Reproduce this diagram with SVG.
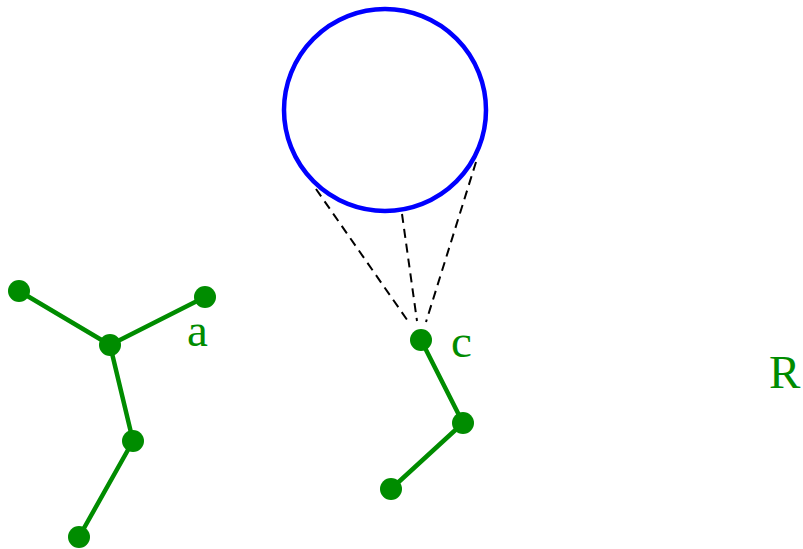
<svg xmlns="http://www.w3.org/2000/svg" width="803" height="549" viewBox="0 0 803 549">
<style>
.e{stroke:#008c00;stroke-width:4.5;fill:none;stroke-linecap:round}
.n{fill:#008c00}
.d{stroke:#000;stroke-width:2;stroke-dasharray:9,6;fill:none}
.t{font-family:"Liberation Serif",serif;font-size:47px;fill:#008c00}
</style>
<rect width="803" height="549" fill="#fff"/>
<g id="connectors">
<line class="e" x1="19" y1="291" x2="110" y2="345"/>
<line class="e" x1="205" y1="297" x2="110" y2="345"/>
<line class="e" x1="110" y1="345" x2="133" y2="441"/>
<line class="e" x1="133" y1="441" x2="79" y2="537"/>
<line class="e" x1="421" y1="340" x2="463" y2="423"/>
<line class="e" x1="463" y1="423" x2="391" y2="489"/>
<line class="d" x1="316" y1="189" x2="410" y2="324"/>
<line class="d" x1="402" y1="214" x2="417" y2="321"/>
<line class="d" x1="476" y1="162" x2="426" y2="322"/>
</g>
<g id="circle"><circle cx="385" cy="110" r="101" fill="none" stroke="#0000ff" stroke-width="4.5"/></g>
<g id="n1"><circle class="n" cx="19" cy="291" r="11"/></g>
<g id="n2"><circle class="n" cx="205" cy="297" r="11"/></g>
<g id="a"><circle class="n" cx="110" cy="345" r="11"/><text class="t" x="187" y="346">a</text></g>
<g id="n4"><circle class="n" cx="133" cy="441" r="11"/></g>
<g id="n5"><circle class="n" cx="79" cy="537" r="11"/></g>
<g id="c"><circle class="n" cx="421" cy="340" r="11"/><text class="t" x="451" y="357">c</text></g>
<g id="n7"><circle class="n" cx="463" cy="423" r="11"/></g>
<g id="n8"><circle class="n" cx="391" cy="489" r="11"/></g>
<g id="R"><text class="t" x="769" y="388">R</text></g>
</svg>
